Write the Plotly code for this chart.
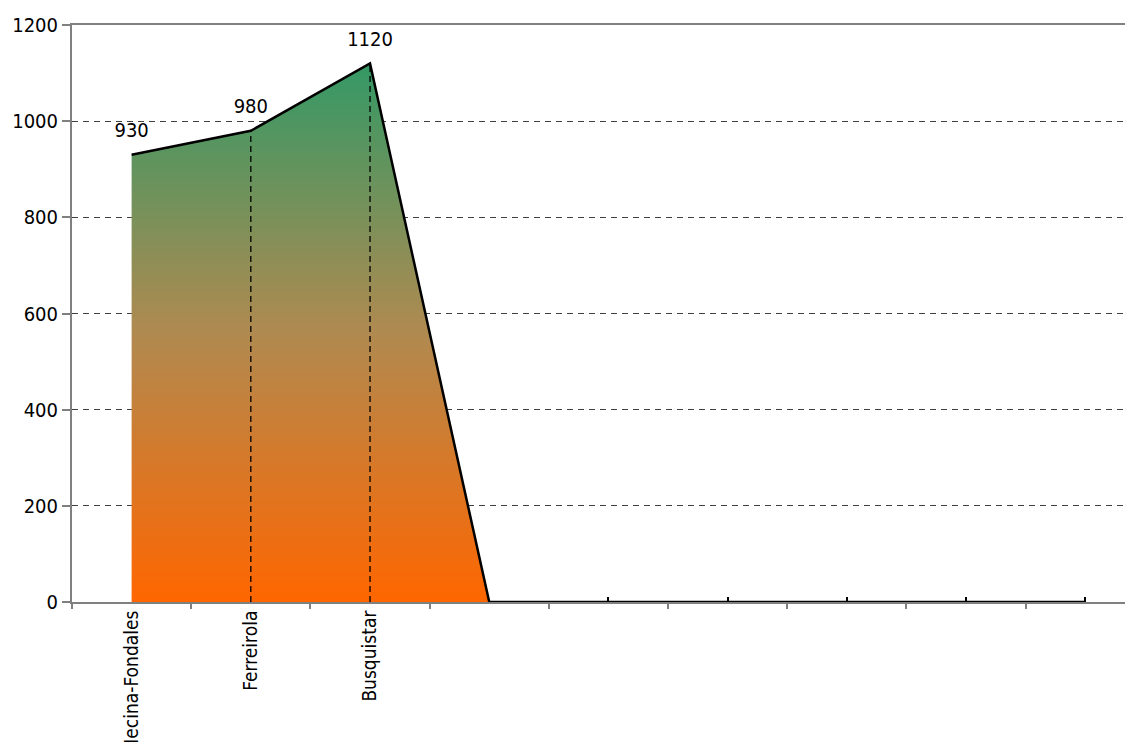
import plotly.graph_objects as go

categories = ["Mecina-Fondales", "Ferreirola", "Busquistar", " ", "  ", "   ", "    ", "     ", "      "]
values = [930, 980, 1120, 0, 0, 0, 0, 0, 0]
y_ticks = [0, 200, 400, 600, 800, 1000, 1200]

FONT = "DejaVu Sans Condensed, DejaVu Sans, sans-serif"
idx = list(range(len(categories)))

fig = go.Figure()

# area
fig.add_trace(go.Scatter(
    x=idx, y=values, mode="lines", fill="tozeroy",
    line=dict(color="black", width=2.5),
    fillgradient=dict(type="vertical", start=0, stop=max(values),
                      colorscale=[[0, "#ff6600"], [0.5, "#b08a50"], [1, "#339966"]]),
    hoverinfo="skip", showlegend=False, xaxis="x", yaxis="y",
))

# drop lines
dx, dy = [], []
for i, v in zip(idx, values):
    if v > 0 and i > 0:
        dx += [i, i, None]
        dy += [0, v, None]
fig.add_trace(go.Scatter(x=dx, y=dy, mode="lines",
                         line=dict(color="black", width=1.3, dash="6px,4px"),
                         hoverinfo="skip", showlegend=False))

# labels
fig.add_trace(go.Scatter(
    x=[i for i, v in zip(idx, values) if v > 0],
    y=[v for v in values if v > 0],
    text=[str(v) for v in values if v > 0],
    mode="markers+text", textposition="top center",
    marker=dict(size=19, opacity=0),
    textfont=dict(family=FONT, size=20, color="black"),
    hoverinfo="skip", showlegend=False, cliponaxis=False,
))

fig.update_layout(
    width=1125, height=734,
    margin=dict(l=64, r=0, t=17, b=140, autoexpand=False),
    paper_bgcolor="white", plot_bgcolor="white",
    font=dict(family=FONT, size=20, color="black"),
    xaxis=dict(
        type="linear", range=[-0.5, 8.4],
        tickmode="array", tickvals=idx, ticktext=categories,
        tickangle=-90, tickfont=dict(family=FONT, size=19),
        showgrid=False, zeroline=False,
        showline=True, linecolor="#808080", linewidth=2, mirror=True,
        ticks="", automargin=False, ticklabelstandoff=-1,
    ),
    xaxis2=dict(
        overlaying="x", matches="x", anchor="y", side="bottom",
        tickmode="array", tickvals=[i - 0.5 for i in idx] + [len(idx) - 0.5],
        ticks="outside", ticklen=6, tickcolor="#808080", tickwidth=1.5,
        showticklabels=False, showgrid=False, zeroline=False, showline=False,
    ),
    xaxis3=dict(
        overlaying="x", matches="x", anchor="y", side="bottom",
        tickmode="array", tickvals=[i for i, v in zip(idx, values) if v == 0 and i > 3],
        ticks="inside", ticklen=5, tickcolor="black", tickwidth=1.5,
        showticklabels=False, showgrid=False, zeroline=False, showline=False,
    ),
    yaxis=dict(
        range=[0, 1200], tickmode="array", tickvals=y_ticks,
        showgrid=True, gridcolor="#404040", griddash="6px,5px", gridwidth=1,
        zeroline=False, showline=True, linecolor="#808080", linewidth=2,
        ticks="outside", ticklen=8, tickcolor="#808080", tickwidth=1.5,
        tickfont=dict(family=FONT, size=20), automargin=False,
    ),
)

# invisible traces to activate overlay axes
fig.add_trace(go.Scatter(x=[0], y=[0], xaxis="x2", mode="markers",
                         marker=dict(opacity=0), hoverinfo="skip", showlegend=False))
fig.add_trace(go.Scatter(x=[0], y=[0], xaxis="x3", mode="markers",
                         marker=dict(opacity=0), hoverinfo="skip", showlegend=False))

fig.write_html("out.html")
